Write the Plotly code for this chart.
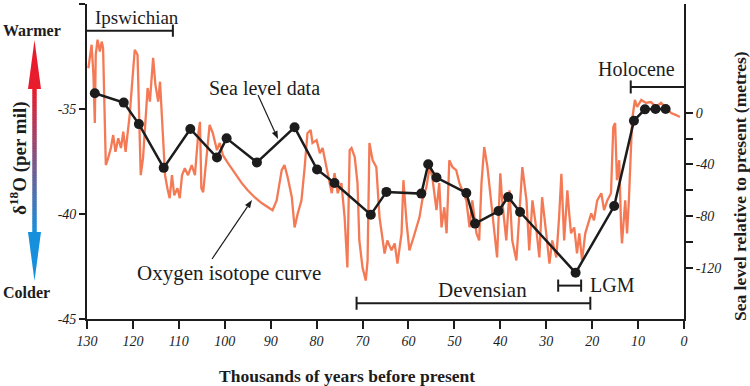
import math
import plotly.graph_objects as go

# ---------------- data ----------------
# Oxygen isotope curve: age (ka BP) and d18O (per mil)
o18_age = [129.7, 129.3, 129.0, 128.6, 128.3, 128.1, 127.7, 127.2, 126.8, 126.5,
           126.2, 125.9, 125.4, 124.8, 124.3, 123.8, 123.2, 122.6, 122.1, 121.6,
           121.2, 120.7, 120.2, 119.6, 119.0, 118.7, 118.3, 117.8, 117.4, 116.8,
           116.3, 115.6, 115.1, 114.5, 114.1, 113.6, 113.0, 112.5, 112.0, 111.5,
           111.0, 110.3, 109.8, 109.3, 108.7, 108.0, 107.2, 106.5, 105.8, 105.4,
           105.1, 104.7, 104.2, 103.7, 103.3, 102.6, 101.7, 101.1, 100.4, 99.3,
           97.8, 96.3, 95.0, 93.5, 91.9, 90.7, 89.6, 88.7, 87.6, 87.0,
           86.3, 85.4, 84.8, 84.1, 83.3, 82.6, 82.0, 81.3, 80.9, 80.0,
           79.3, 78.7, 77.8, 76.7, 76.1, 75.4, 74.6, 73.9, 73.3, 72.8,
           72.4, 71.7, 71.1, 70.7, 70.0, 69.3, 68.9, 68.5, 67.8, 67.0,
           66.3, 65.7, 65.2, 64.6, 63.7, 63.0, 62.4, 61.5, 61.1, 60.4,
           59.8, 59.1, 58.3, 57.6, 57.0, 56.1, 55.4, 54.8, 53.9, 53.3,
           52.8, 52.2, 51.7, 51.1, 50.4, 49.6, 48.9, 48.3, 47.4, 46.7,
           46.1, 45.2, 44.6, 44.1, 43.5, 42.8, 42.0, 41.3, 40.7, 40.0,
           39.6, 38.7, 38.0, 37.4, 36.5, 35.9, 35.2, 34.3, 33.7, 33.0,
           32.2, 31.5, 30.9, 30.0, 29.3, 28.7, 27.8, 27.2, 26.7, 26.1,
           25.4, 25.0, 24.6, 23.9, 23.3, 22.8, 22.2, 21.5, 21.1, 20.2,
           19.6, 18.9, 18.0, 17.4, 16.7, 15.9, 15.4, 15.0, 14.6, 14.1,
           13.7, 13.5, 12.8, 12.4, 12.0, 11.5, 11.3, 10.7, 10.2, 9.3,
           8.3, 7.2, 6.1, 5.0, 3.9, 2.8, 1.7, 0.9]
o18_val = [-33.06, -32.26, -31.94, -33.38, -35.67, -32.42, -31.70, -32.26, -31.79, -32.09,
           -34.65, -37.67, -37.34, -36.86, -36.24, -37.04, -36.39, -36.86, -36.08, -37.04,
           -36.24, -35.29, -33.85, -32.18, -32.42, -34.65, -38.15, -37.34, -35.91, -34.00,
           -34.65, -32.56, -33.85, -34.65, -33.70, -35.61, -38.15, -38.77, -39.25, -38.15,
           -39.11, -38.77, -39.25, -38.15, -37.82, -38.15, -37.67, -38.15, -36.24, -35.61,
           -38.77, -38.96, -37.82, -36.48, -35.76, -36.15, -36.96, -36.62, -37.20, -37.58,
           -38.06, -38.53, -38.87, -39.20, -39.49, -39.68, -39.82, -39.35, -37.91, -37.67,
           -38.25, -39.20, -40.64, -39.97, -39.35, -37.77, -36.15, -36.00, -36.62, -36.48,
           -37.10, -36.86, -37.77, -39.01, -38.06, -39.01, -38.53, -40.16, -42.55, -36.96,
           -36.86, -37.29, -38.53, -41.26, -42.55, -43.17, -42.21, -36.62, -37.44, -37.77,
           -40.16, -41.11, -41.88, -41.26, -41.73, -41.40, -42.36, -40.92, -38.39, -40.44,
           -41.73, -41.26, -40.64, -40.16, -39.35, -38.73, -37.77, -38.25, -39.82, -38.53,
           -40.64, -39.68, -40.92, -37.44, -37.77, -37.91, -38.53, -38.87, -39.35, -40.64,
           -39.35, -40.92, -41.26, -38.53, -36.81, -37.77, -39.35, -40.64, -42.07, -38.06,
           -39.35, -41.26, -38.87, -41.26, -42.21, -40.16, -37.77, -39.35, -41.73, -39.35,
           -40.64, -42.07, -39.20, -40.92, -42.36, -41.26, -42.07, -40.16, -38.09, -41.26,
           -38.87, -39.97, -40.92, -40.64, -41.88, -40.92, -42.21, -40.92, -40.64, -39.97,
           -40.30, -39.35, -39.01, -39.82, -39.35, -39.01, -35.86, -35.67, -38.39, -37.44,
           -40.64, -41.40, -39.35, -40.92, -39.35, -36.62, -35.53, -34.57, -34.90, -34.57,
           -34.71, -34.67, -34.90, -34.71, -34.95, -35.19, -35.29, -35.38]

# Sea level data: age (ka BP) and sea level relative to present (m)
sea_age = [128.3, 122.0, 118.7, 113.3, 107.5, 101.7, 99.6, 93.0, 84.8, 79.9,
           76.1, 68.2, 64.8, 57.2, 55.7, 53.9, 47.4, 45.5, 40.4, 38.3,
           35.7, 23.6, 15.2, 10.9, 8.5, 6.2, 4.0]
sea_lvl = [15.0, 7.8, -8.8, -42.6, -12.6, -34.6, -19.8, -38.4, -11.3, -43.9,
           -54.3, -78.8, -61.2, -62.5, -39.8, -50.1, -62.0, -85.7, -76.0, -65.1,
           -76.7, -123.7, -72.1, -6.2, 2.6, 2.9, 2.9]

# Named periods (ka BP)
period_names = ["Ipswichian", "Holocene", "Devensian", "LGM"]
period_start = [130.0, 11.6, 71.3, 27.4]
period_end = [111.3, 0.0, 20.4, 22.4]

x_ticks = list(range(130, -1, -10))
y_ticks = [-30, -35, -40, -45]
y2_ticks = [0, -40, -80, -120]
y2_minor = [-20, -60, -100]

# ---------------- styling ----------------
SERIF = "Liberation Serif"
INK = "#1c1c1c"
ORANGE = "#f47a55"

fig = go.Figure()
fig.add_trace(go.Scatter(x=o18_age, y=o18_val, mode="lines",
                         line=dict(color=ORANGE, width=2.3), yaxis="y",
                         hoverinfo="skip"))
fig.add_trace(go.Scatter(x=sea_age, y=sea_lvl, mode="lines+markers",
                         line=dict(color=INK, width=2.5),
                         marker=dict(size=10, color=INK), yaxis="y2"))

# plot area in pixels: x 87..684, y 4..319
L, R, T, B = 87, 684, 4, 319
W, H = 750, 386

def px(xp):
    return (xp - L) / (R - L)

def py(yp):
    return (B - yp) / (B - T)

shapes = []
# period brackets (y in left-axis units)
bracket_y = {"Ipswichian": -31.27, "Holocene": -33.95, "Devensian": -44.25, "LGM": -43.41}
cap = {"Ipswichian": 0.29, "Holocene": 0.31, "Devensian": 0.31, "LGM": 0.29}
caps_at = {"Ipswichian": ["end"], "Holocene": ["start"], "Devensian": ["start", "end"], "LGM": ["start", "end"]}
for n, s, e in zip(period_names, period_start, period_end):
    yb = bracket_y[n]
    shapes.append(dict(type="line", xref="x", yref="y", x0=s, x1=e, y0=yb, y1=yb,
                       line=dict(color=INK, width=2)))
    for c in caps_at[n]:
        xv = s if c == "start" else e
        shapes.append(dict(type="line", xref="x", yref="y", x0=xv, x1=xv,
                           y0=yb - cap[n], y1=yb + cap[n], line=dict(color=INK, width=2)))

# gradient double arrow (decoration)
red = (232, 28, 44)
blue = (22, 144, 220)
top_base, bot_base = 88, 233
N = 60
for i in range(N):
    t = i / (N - 1)
    col = tuple(int(round(red[k] + (blue[k] - red[k]) * t)) for k in range(3))
    y0 = top_base + (bot_base - top_base) * i / N
    y1 = top_base + (bot_base - top_base) * (i + 1) / N + 0.6
    shapes.append(dict(type="rect", xref="paper", yref="paper",
                       x0=px(32.3), x1=px(36.7), y0=py(y1), y1=py(y0),
                       line=dict(width=0), fillcolor="rgb(%d,%d,%d)" % col))
cx = 34.5
shapes.append(dict(type="path", xref="paper", yref="paper",
                   path="M %f %f L %f %f L %f %f Z" % (px(cx), py(40), px(cx - 6.5), py(top_base + 1), px(cx + 6.5), py(top_base + 1)),
                   line=dict(width=0), fillcolor="rgb(%d,%d,%d)" % red))
shapes.append(dict(type="path", xref="paper", yref="paper",
                   path="M %f %f L %f %f L %f %f Z" % (px(cx), py(281), px(cx - 6.5), py(bot_base - 1), px(cx + 6.5), py(bot_base - 1)),
                   line=dict(width=0), fillcolor="rgb(%d,%d,%d)" % blue))

# pointer arrows for the two curve labels (decoration, pixel geometry)
def pointer(tail, head, length=8, half=3):
    dx, dy = head[0] - tail[0], head[1] - tail[1]
    d = math.hypot(dx, dy)
    ux, uy = dx / d, dy / d
    bx, by = head[0] - ux * length, head[1] - uy * length
    out = [dict(type="line", xref="paper", yref="paper",
                x0=px(tail[0]), y0=py(tail[1]), x1=px(bx), y1=py(by),
                line=dict(color=INK, width=1.2))]
    p1 = (bx - uy * half, by + ux * half)
    p2 = (bx + uy * half, by - ux * half)
    out.append(dict(type="path", xref="paper", yref="paper",
                    path="M %f %f L %f %f L %f %f Z" % (px(head[0]), py(head[1]), px(p1[0]), py(p1[1]), px(p2[0]), py(p2[1])),
                    line=dict(width=0), fillcolor=INK))
    return out

shapes += pointer((258, 95), (278, 139))
shapes += pointer((212, 259), (252, 200))

def tf(size):
    return dict(family=SERIF, size=size, color=INK)

def bf(size):
    return dict(family=SERIF, size=size, color=INK, weight="bold")

annotations = [
    dict(text="Ipswichian", x=128.7, y=-30.65, xref="x", yref="y", xanchor="left", yanchor="middle", showarrow=False, font=tf(19)),
    dict(text="Holocene", x=10.4, y=-33.09, xref="x", yref="y", xanchor="center", yanchor="middle", showarrow=False, font=tf(20)),
    dict(text="Devensian", x=43.9, y=-43.64, xref="x", yref="y", xanchor="center", yanchor="middle", showarrow=False, font=tf(21)),
    dict(text="LGM", x=20.9, y=-43.36, xref="x", yref="y", xanchor="left", yanchor="middle", showarrow=False, font=tf(20)),
    dict(text="Sea level data", x=91.3, y=-33.99, xref="x", yref="y", xanchor="center", yanchor="middle", showarrow=False, font=tf(20)),
    dict(text="Oxygen isotope curve", x=99.1, y=-42.83, xref="x", yref="y", xanchor="center", yanchor="middle", showarrow=False, font=tf(21)),
    dict(text="Warmer", x=px(32), y=py(30), xref="paper", yref="paper", showarrow=False, font=bf(16),
         xanchor="center", yanchor="middle"),
    dict(text="Colder", x=px(26), y=py(292), xref="paper", yref="paper", showarrow=False, font=bf(16),
         xanchor="center", yanchor="middle"),
    dict(text="δ<sup>18</sup>O (per mil)", x=px(18), y=py(158), xref="paper", yref="paper", showarrow=False,
         font=bf(19), textangle=-90, xanchor="center", yanchor="middle"),
    dict(text="Sea level relative to present (metres)", x=px(740), y=py(186), xref="paper", yref="paper",
         showarrow=False, font=bf(17.5), textangle=-90, xanchor="center", yanchor="middle"),
    dict(text="Thousands of years before present", x=px(347), y=py(376), xref="paper", yref="paper",
         showarrow=False, font=bf(17.5), xanchor="center", yanchor="middle"),
]

tickfont = dict(family=SERIF, size=14, color=INK, style="italic")
axis_common = dict(showgrid=False, zeroline=False, showline=True, linecolor=INK, linewidth=1.8,
                   ticks="outside", tickcolor=INK, tickwidth=1.5, tickfont=tickfont, automargin=False)

fig.update_layout(
    width=W, height=H,
    margin=dict(l=L, r=W - R, t=T, b=H - B),
    paper_bgcolor="white", plot_bgcolor="white",
    showlegend=False,
    font=dict(family=SERIF, color=INK),
    xaxis=dict(range=[130, 0], tickmode="array", tickvals=x_ticks, ticktext=[str(v) for v in x_ticks],
               ticklen=8, **axis_common),
    yaxis=dict(range=[-45, -30], tickmode="array", tickvals=y_ticks, ticktext=[str(v) for v in y_ticks],
               ticklen=6, **axis_common),
    yaxis2=dict(range=[-159.4, 84], overlaying="y", side="right", tickmode="array",
                tickvals=y2_ticks, ticktext=[str(v) for v in y2_ticks], ticklen=7,
                minor=dict(tickmode="array", tickvals=y2_minor, ticks="outside", ticklen=7,
                           tickwidth=1.5, tickcolor=INK),
                **axis_common),
    shapes=shapes,
    annotations=annotations,
)

fig.write_html("out.html", config={"displayModeBar": False},
               post_script="document.body.style.margin='0';")
